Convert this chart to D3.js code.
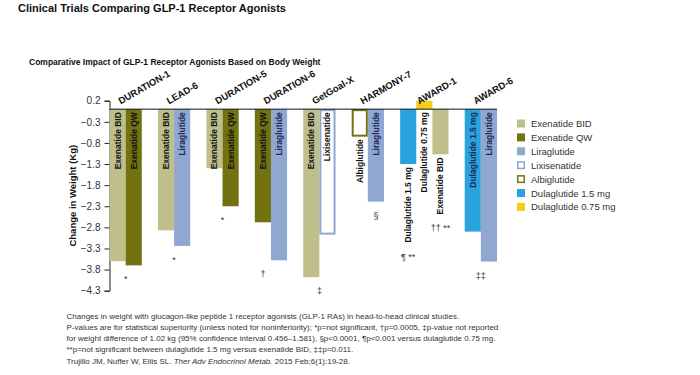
<!DOCTYPE html>
<html>
<head>
<meta charset="utf-8">
<script src="https://cdn.jsdelivr.net/npm/d3@7"></script>
<style>
  body { margin: 0; background: #fff; font-family: "Liberation Sans", Arial, sans-serif; }
</style>
</head>
<body>
<div id="chart"></div>
<script>
// studies and the drugs compared in each
const studies = ["DURATION-1", "LEAD-6", "DURATION-5", "DURATION-6", "GetGoal-X", "HARMONY-7", "AWARD-1", "AWARD-6"];
const studyDrugs = [
  ["Exenatide BID", "Exenatide QW"],
  ["Exenatide BID", "Liraglutide"],
  ["Exenatide BID", "Exenatide QW"],
  ["Exenatide QW", "Liraglutide"],
  ["Exenatide BID", "Lixisenatide"],
  ["Albiglutide", "Liraglutide"],
  ["Dulaglutide 1.5 mg", "Dulaglutide 0.75 mg", "Exenatide BID"],
  ["Dulaglutide 1.5 mg", "Liraglutide"]
];
// change in weight (kg)
const studyValues = [
  [-3.6, -3.7],
  [-2.87, -3.24],
  [-1.4, -2.3],
  [-2.68, -3.58],
  [-3.98, -2.96],
  [-0.64, -2.19],
  [-1.3, 0.2, -1.07],
  [-2.9, -3.61]
];

const drugs = ["Exenatide BID", "Exenatide QW", "Liraglutide", "Lixisenatide", "Albiglutide", "Dulaglutide 1.5 mg", "Dulaglutide 0.75 mg"];
const drugFills = ["#bfbf8c", "#727310", "#8fa7d1", "#ffffff", "#ffffff", "#29a3dd", "#f6cd17"];
const drugStrokes = [null, null, null, "#8fa7d1", "#727310", null, null];

const yTicks = [0.2, -0.3, -0.8, -1.3, -1.8, -2.3, -2.8, -3.3, -3.8, -4.3];

// significance marks below each study
const noteStudies = ["DURATION-1", "LEAD-6", "DURATION-5", "DURATION-6", "GetGoal-X", "HARMONY-7", "AWARD-1", "AWARD-1", "AWARD-6"];
const noteTexts = ["*", "*", "*", "\u2020", "\u2021", "\u00a7", "\u00b6 **", "\u2020\u2020 **", "\u2021\u2021"];
const noteBars = [null, null, null, "Exenatide QW", null, "Liraglutide", "Dulaglutide 1.5 mg", "Exenatide BID", null];

const footLines = [
  "Changes in weight with glucagon-like peptide 1 receptor agonists (GLP-1 RAs) in head-to-head clinical studies.",
  "P-values are for statistical superiority (unless noted for noninferiority); *p=not significant, \u2020p=0.0005, \u2021p-value not reported",
  "for weight difference of 1.02 kg (95% confidence interval 0.456\u20131.581), \u00a7p<0.0001, \u00b6p<0.001 versus dulaglutide 0.75 mg.",
  "**p=not significant between dulaglutide 1.5 mg versus exenatide BID, \u2021\u2021p=0.011."
];
const citeParts = ["Trujillo JM, Nuffer W, Ellis SL. ", "Ther Adv Endocrinol Metab.", " 2015 Feb;6(1):19-28."];

const width = 700, height = 375;
const plot = { left: 109.5, right: 497, top: 100.7, bottom: 290.7 };

const svg = d3.select("#chart").append("svg")
  .attr("width", width)
  .attr("height", height);

// titles
svg.append("text")
  .attr("x", 18).attr("y", 11.5)
  .style("font-size", "11px").style("font-weight", "bold")
  .attr("fill", "#111")
  .text("Clinical Trials Comparing GLP-1 Receptor Agonists");

svg.append("text")
  .attr("x", 29).attr("y", 64.5)
  .style("font-size", "8.5px").style("font-weight", "bold")
  .attr("fill", "#111")
  .text("Comparative Impact of GLP-1 Receptor Agonists Based on Body Weight");

// flatten into slots (bars + gaps between studies)
const bars = [];
const slots = [];
studies.forEach((s, i) => {
  if (i > 0) slots.push("gap" + i);
  studyDrugs[i].forEach((d, j) => {
    const key = s + "|" + d;
    slots.push(key);
    bars.push({ key, study: s, drug: d, value: studyValues[i][j] });
  });
});

const x = d3.scaleBand().domain(slots).range([plot.left, plot.right]).padding(0);
const y = d3.scaleLinear().domain([0.2, -4.3]).range([plot.top, plot.bottom]);
const color = d3.scaleOrdinal().domain(drugs).range(drugFills);
const stroke = d3.scaleOrdinal().domain(drugs).range(drugStrokes);

// y axis
const yAxis = svg.append("g")
  .attr("transform", `translate(${plot.left},0)`)
  .call(d3.axisLeft(y).tickValues(yTicks).tickFormat(d3.format(".1f")).tickSize(5).tickPadding(4));
yAxis.select(".domain").attr("stroke", "#222");
yAxis.selectAll(".tick line").attr("stroke", "#222");
yAxis.selectAll(".tick text")
  .style("font-size", "10px")
  .style("font-family", "'Liberation Sans', Arial, sans-serif")
  .attr("fill", "#333");

svg.append("text")
  .attr("transform", `translate(76,${(plot.top + plot.bottom) / 2}) rotate(-90)`)
  .attr("text-anchor", "middle")
  .style("font-size", "9.5px").style("font-weight", "bold")
  .attr("fill", "#111")
  .text("Change in Weight (Kg)");

// bars
svg.selectAll("rect.bar")
  .data(bars)
  .enter()
  .append("rect")
  .attr("class", "bar")
  .each(function (d) {
    const s = stroke(d.drug);
    const inset = s ? 1 : 0;
    d3.select(this)
      .attr("x", x(d.key) + inset)
      .attr("width", x.bandwidth() - inset * 2)
      .attr("y", y(Math.max(0, d.value)) + (s ? 1 : 0))
      .attr("height", Math.abs(y(d.value) - y(0)) - (s ? 1.5 : 0))
      .attr("fill", color(d.drug))
      .attr("stroke", s || "none")
      .attr("stroke-width", s ? 2 : 0);
  });

// zero line
svg.append("line")
  .attr("x1", plot.left).attr("x2", plot.right)
  .attr("y1", y(0)).attr("y2", y(0))
  .attr("stroke", "#111").attr("stroke-width", 1);

// bar labels (inside when they fit, else below)
const extent = {};
bars.forEach(d => {
  const t = svg.append("text")
    .attr("text-anchor", "end")
    .attr("dominant-baseline", "central")
    .style("font-size", "8.5px").style("font-weight", "bold")
    .text(d.drug);
  const len = t.node().getComputedTextLength();
  const h = d.value < 0 ? y(d.value) - y(0) : 0;
  const inside = h >= len;
  const start = inside ? y(0) + 3 : y(Math.min(0, d.value)) + 3;
  const onBlue = inside && (d.drug === "Liraglutide" || d.drug === "Dulaglutide 1.5 mg");
  t.attr("transform", `translate(${x(d.key) + x.bandwidth() / 2},${start}) rotate(-90)`)
    .attr("fill", onBlue ? "#1d2856" : "#111");
  extent[d.key] = { inside, bottom: inside ? y(Math.min(0, d.value)) : start + len };
});

// study labels
studies.forEach((s, i) => {
  const keys = studyDrugs[i].map(d => s + "|" + d);
  const cx = (x(keys[0]) + x(keys[keys.length - 1]) + x.bandwidth()) / 2;
  svg.append("text")
    .attr("transform", `translate(${cx - 5},104.5) rotate(-30)`)
    .style("font-size", "9.5px").style("font-weight", "bold")
    .attr("fill", "#111")
    .text(s);
});

// significance marks
noteStudies.forEach((s, i) => {
  const gi = studies.indexOf(s);
  const keys = studyDrugs[gi].map(d => s + "|" + d);
  const groupBottom = d3.max(keys, k => extent[k].bottom);
  let cx = (x(keys[0]) + x(keys[keys.length - 1]) + x.bandwidth()) / 2;
  let yy = groupBottom;
  if (noteBars[i]) {
    const k = s + "|" + noteBars[i];
    cx = x(k) + x.bandwidth() / 2;
    if (!extent[k].inside) yy = extent[k].bottom;
  }
  svg.append("text")
    .attr("x", cx).attr("y", yy + 14)
    .attr("text-anchor", "middle")
    .attr("dominant-baseline", "central")
    .style("font-size", "9px")
    .attr("fill", "#333")
    .text(noteTexts[i]);
});

// legend
const legend = svg.append("g").attr("transform", "translate(517,119.5)");
drugs.forEach((d, i) => {
  const g = legend.append("g").attr("transform", `translate(0,${i * 13.9})`);
  const s = stroke(d);
  g.append("rect")
    .attr("x", s ? 0.75 : 0).attr("y", s ? 0.75 : 0)
    .attr("width", s ? 6.5 : 8).attr("height", s ? 6.5 : 8)
    .attr("fill", color(d))
    .attr("stroke", s || "none")
    .attr("stroke-width", s ? 1.5 : 0);
  g.append("text")
    .attr("x", 14).attr("y", 4)
    .attr("dominant-baseline", "central")
    .style("font-size", "9.5px")
    .attr("fill", "#333")
    .text(d);
});

// footnotes
const foot = svg.append("g").attr("transform", "translate(66.5,0)");
footLines.forEach((line, i) => {
  foot.append("text")
    .attr("x", 0).attr("y", 318.5 + i * 11.3)
    .style("font-size", "8px")
    .attr("fill", "#333")
    .text(line);
});
const cite = foot.append("text")
  .attr("x", 0).attr("y", 318.5 + 4 * 11.3)
  .style("font-size", "8px")
  .attr("fill", "#333");
citeParts.forEach((p, i) => {
  cite.append("tspan").style("font-style", i === 1 ? "italic" : "normal").text(p);
});
</script>
</body>
</html>
